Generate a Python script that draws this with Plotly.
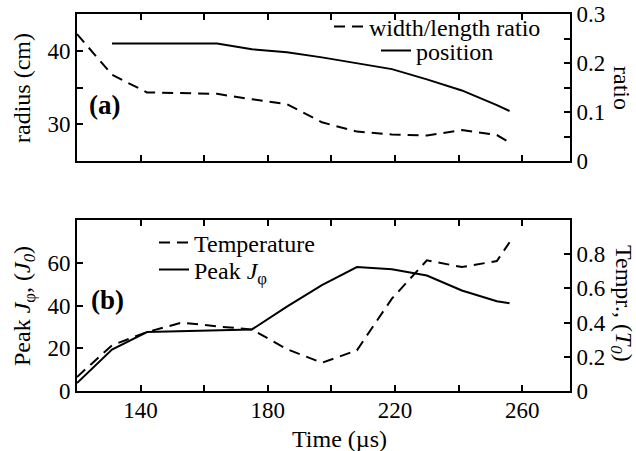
import plotly.graph_objects as go

# ---- data (panel a) ----
time_ratio = [120, 131, 142, 153, 164, 175, 186, 197, 208, 219, 230, 241, 252, 256]
ratio = [0.259, 0.176, 0.140, 0.139, 0.137, 0.126, 0.116, 0.079, 0.060, 0.054, 0.052, 0.063, 0.053, 0.038]
time_pos = [131, 142, 153, 164, 175, 186, 197, 208, 219, 230, 241, 252, 256]
position = [41.0, 41.0, 41.0, 41.0, 40.2, 39.8, 39.1, 38.3, 37.5, 36.1, 34.6, 32.6, 31.8]

# ---- data (panel b) ----
time_b = [120, 131, 142, 153, 164, 175, 186, 197, 208, 219, 230, 241, 252, 256]
temperature = [0.082, 0.267, 0.345, 0.40, 0.378, 0.36, 0.245, 0.165, 0.238, 0.54, 0.764, 0.725, 0.76, 0.87]
peak_j = [3.7, 19.4, 27.6, 27.9, 28.3, 28.8, 39.5, 49.5, 58.0, 57.0, 54.0, 47.0, 42.0, 41.0]

# ---- tick labels ----
x_ticks = [140, 160, 180, 200, 220, 240, 260]
x_ticktext = ["140", "", "180", "", "220", "", "260"]
ya_ticks = [25, 30, 35, 40, 45]
ya_text = ["", "30", "", "40", ""]
ya2_ticks = [0, 0.05, 0.1, 0.15, 0.2, 0.25, 0.3]
ya2_text = ["0", "", "0.1", "", "0.2", "", "0.3"]
yb_ticks = [0, 20, 40, 60]
yb_text = ["0", "20", "40", "60"]
yb2_ticks = [0, 0.2, 0.4, 0.6, 0.8]
yb2_text = ["0", "0.2", "0.4", "0.6", "0.8"]

FONT = "Liberation Serif"
FS = 24      # titles / legend
TFS = 23     # tick labels
DASH = "11px,7px"

L, R, T, B = 77, 66, 14, 60
W, H = 636 - L - R, 451 - T - B


def px(xp):
    return (xp - L) / W


def py(yp):
    return (451 - B - yp) / H


fig = go.Figure()
fig.add_trace(go.Scatter(x=time_ratio, y=ratio, mode="lines", name="width/length ratio",
                         line=dict(color="black", width=2, dash=DASH), xaxis="x", yaxis="y2",
                         legend="legend"))
fig.add_trace(go.Scatter(x=time_pos, y=position, mode="lines", name="position",
                         line=dict(color="black", width=2), xaxis="x", yaxis="y",
                         legend="legend2"))
fig.add_trace(go.Scatter(x=time_b, y=temperature, mode="lines", name="Temperature",
                         line=dict(color="black", width=2, dash=DASH), xaxis="x2", yaxis="y4",
                         legend="legend3"))
fig.add_trace(go.Scatter(x=time_b, y=peak_j, mode="lines", name="Peak <i>J</i><sub>φ</sub>",
                         line=dict(color="black", width=2), xaxis="x2", yaxis="y3",
                         legend="legend4"))

ax_common = dict(showline=True, linecolor="black", linewidth=2, ticks="inside", ticklen=6,
                 tickwidth=1.5, tickcolor="black", showgrid=False, zeroline=False,
                 tickfont=dict(family=FONT, size=TFS, color="black"))


def leg(xp, yp):
    return dict(x=px(xp), y=py(yp), xanchor="left", yanchor="middle",
                bgcolor="rgba(0,0,0,0)", borderwidth=0,
                font=dict(family=FONT, size=FS, color="black"), tracegroupgap=0,
                itemwidth=30)


fig.update_layout(
    width=636, height=451,
    margin=dict(l=L, r=R, t=T, b=B, autoexpand=False),
    paper_bgcolor="white", plot_bgcolor="white",
    font=dict(family=FONT, size=FS, color="black"),
    showlegend=True,
    xaxis=dict(domain=[0, 1], anchor="y", range=[120, 275], tickmode="array",
               tickvals=x_ticks, ticktext=x_ticktext, showticklabels=False,
               mirror="ticks", **ax_common),
    yaxis=dict(domain=[py(161), 1], anchor="x", range=[25, 45], tickmode="array",
               tickvals=ya_ticks, ticktext=ya_text, **ax_common),
    yaxis2=dict(overlaying="y", anchor="x", side="right", range=[0, 0.3], tickmode="array",
                tickvals=ya2_ticks, ticktext=ya2_text, **ax_common),
    xaxis2=dict(domain=[0, 1], anchor="y3", range=[120, 275], tickmode="array",
                tickvals=x_ticks, ticktext=x_ticktext, mirror="ticks",
                ticklabelstandoff=-3, **ax_common),
    yaxis3=dict(domain=[0, py(220)], anchor="x2", range=[0, 80], tickmode="array",
                tickvals=yb_ticks, ticktext=yb_text, **ax_common),
    yaxis4=dict(overlaying="y3", anchor="x2", side="right", range=[0, 1], tickmode="array",
                tickvals=yb2_ticks, ticktext=yb2_text, **ax_common),
    legend=leg(329, 27),
    legend2=leg(376, 51),
    legend3=leg(154, 243),
    legend4=leg(154, 270),
)


def title(text, xp, yp, angle=0, size=FS):
    return dict(text=text, x=px(xp), y=py(yp), xref="paper", yref="paper",
                xanchor="center", yanchor="middle", showarrow=False, textangle=angle,
                font=dict(family=FONT, size=size, color="black"))


ann = [
    title("<b>(a)</b>", 104, 105, size=27),
    title("<b>(b)</b>", 107, 300, size=27),
    title("radius (cm)", 22, 88, -90),
    title("ratio", 622, 88, 90),
    title("Peak <i>J</i><sub>φ</sub>, (<i>J</i><sub><i>0</i></sub>)", 24, 306, -90),
    title("Tempr., (<i>T</i><sub><i>0</i></sub>)", 622, 303, 90),
    title("Time (µs)", 339, 439),
]
fig.update_layout(annotations=ann)

fig.write_html("out.html")
